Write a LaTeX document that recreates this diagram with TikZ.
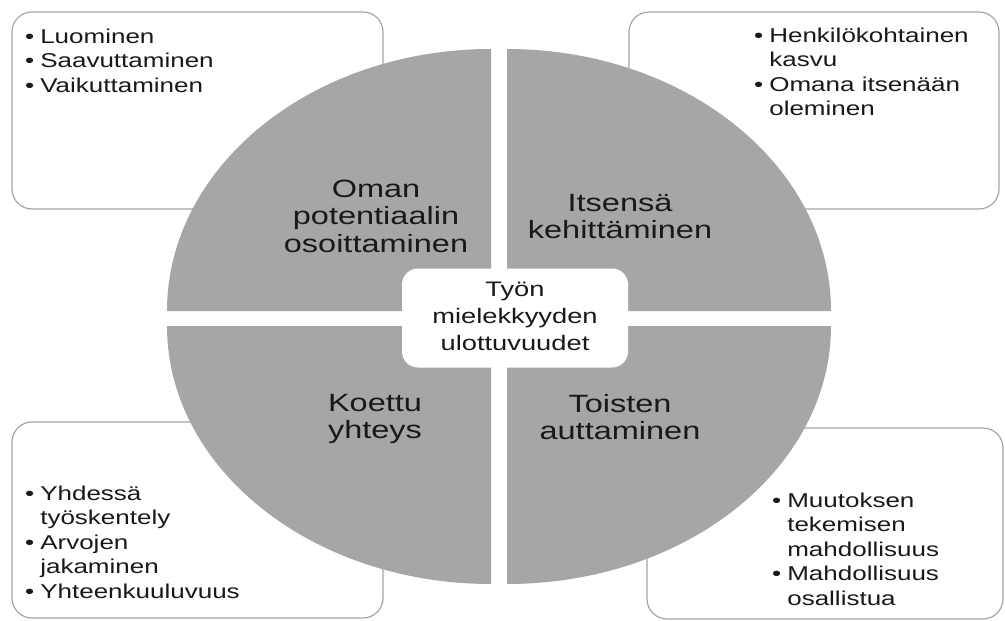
\documentclass[tikz,border=0pt]{standalone}
\usepackage{fontspec}
\setmainfont{Liberation Sans}[FakeStretch=1.3]
\usepackage{tikz}
\definecolor{quadgray}{RGB}{166,166,166}
\definecolor{boxline}{RGB}{165,165,165}
\definecolor{ink}{RGB}{25,25,25}
\newcommand{\blist}[1]{\begin{tabular}[t]{@{}l@{\hspace{6pt}}l@{}}#1\end{tabular}}
\newcommand{\cstack}[1]{\begin{tabular}[t]{@{}c@{}}#1\end{tabular}}

\begin{document}
\begin{tikzpicture}[x=1pt,y=-1pt,
  itembox/.style={draw=boxline,line width=1.2pt,fill=white,rounded corners=20pt,inner sep=0pt},
  itemtext/.style={text=ink,inner sep=0pt,anchor=base west,font=\fontsize{20}{24.5}\selectfont},
  quad/.style={fill=quadgray},
  quadtext/.style={text=ink,inner sep=0pt,anchor=base,font=\fontsize{25}{27.5}\selectfont},
  midbox/.style={fill=white,rounded corners=16pt,text=ink,inner sep=0pt,font=\fontsize{21}{27}\selectfont}]
  \useasboundingbox (0,0) rectangle (1005,621);

  \node [itembox,minimum width=371pt,minimum height=197pt](luo) at (197.5,110.5) {};
  \node [itembox,minimum width=370pt,minimum height=197pt](kas) at (814,110.5) {};
  \node [itembox,minimum width=371pt,minimum height=196pt](yht) at (197.5,520) {};
  \node [itembox,minimum width=356pt,minimum height=191pt](muu) at (825,523.5) {};

  \node [itemtext](luoT) at (25,43) {\blist{• & Luominen\\ • & Saavuttaminen\\ • & Vaikuttaminen}};
  \node [itemtext](kasT) at (754,42) {\blist{• & Henkilökohtainen\\ & kasvu\\ • & Omana itsenään\\ & oleminen}};
  \node [itemtext](yhtT) at (25,500) {\blist{• & Yhdessä\\ & työskentely\\ • & Arvojen\\ & jakaminen\\ • & Yhteenkuuluvuus}};
  \node [itemtext](muuT) at (772,507) {\blist{• & Muutoksen\\ & tekemisen\\ & mahdollisuus\\ • & Mahdollisuus\\ & osallistua}};

  \fill [quad] (491,311) -- ++(-324,0) arc [start angle=180,end angle=270,x radius=324,y radius=262] -- cycle;
  \fill [quad] (507,311) -- ++(0,-262) arc [start angle=270,end angle=360,x radius=324,y radius=262] -- cycle;
  \fill [quad] (491,326) -- ++(-324,0) arc [start angle=180,end angle=90,x radius=324,y radius=258] -- cycle;
  \fill [quad] (507,326) -- ++(324,0) arc [start angle=0,end angle=90,x radius=324,y radius=258] -- cycle;

  \node [quadtext](oma) at (376,197) {\cstack{Oman\\ potentiaalin\\ osoittaminen}};
  \node [quadtext](its) at (620,211) {\cstack{Itsensä\\ kehittäminen}};
  \node [quadtext](koe) at (375,411) {\cstack{Koettu\\ yhteys}};
  \node [quadtext](toi) at (620,412) {\cstack{Toisten\\ auttaminen}};

  \node [midbox,minimum width=226pt,minimum height=99pt](mid) at (515,318) {\cstack{Työn\\ mielekkyyden\\ ulottuvuudet}};
\end{tikzpicture}
\end{document}
